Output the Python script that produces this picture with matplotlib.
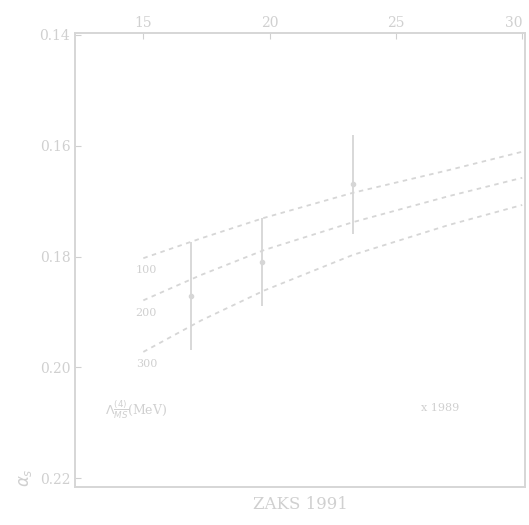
import matplotlib
matplotlib.use("Agg")
import matplotlib.pyplot as plt

# data (image is a vertically flipped scan: alpha_s grows downward)
energy = [15, 17.3, 19.8, 23.3, 27.1, 30]
alpha_100 = [0.1803, 0.1767, 0.1730, 0.1685, 0.1644, 0.1611]
alpha_200 = [0.1879, 0.1833, 0.1788, 0.1738, 0.1691, 0.1658]
alpha_300 = [0.1972, 0.1915, 0.1861, 0.1797, 0.1743, 0.1707]
lambda_labels = ["100", "200", "300"]

point_x = [16.9, 19.7, 23.3]
point_y = [0.1871, 0.1810, 0.1670]
point_err = [0.0097, 0.0080, 0.0090]

x_ticks = [15, 20, 25, 30]
y_ticks = [0.14, 0.16, 0.18, 0.20, 0.22]

grey = "#d6d6d6"
txt = "#d0d0d0"

plt.rcParams['font.family'] = ['DejaVu Serif']
fig = plt.figure(figsize=(5.29, 5.25), dpi=100)
ax = fig.add_axes([0.142, 0.072, 0.850, 0.865])

for curve in [alpha_100, alpha_200, alpha_300]:
    ax.plot(energy, curve, linestyle=(0, (2.5, 2.5)), color=grey, linewidth=1.3)

ax.errorbar(point_x, point_y, yerr=point_err, fmt='o', markersize=3,
            color=grey, ecolor=grey, elinewidth=1.3, capsize=0)

# curve labels at the left end
for lab, curve in zip(lambda_labels, [alpha_100, alpha_200, alpha_300]):
    ax.text(energy[0] - 0.3, curve[0] + 0.0022, lab, fontsize=8, color=txt,
            ha='left', va='center')
ax.text(13.5, 0.2077, r"$\Lambda^{(4)}_{\overline{MS}}$(MeV)", fontsize=9, color=txt,
        ha='left', va='center')
ax.text(26.0, 0.2073, "x 1989", fontsize=8, color=txt, ha='left', va='center')

ax.set_xlim(12.3, 30.1)
ax.set_ylim(0.1397, 0.2216)
ax.invert_yaxis()
ax.xaxis.tick_top()
ax.set_xticks(x_ticks)
ax.set_xticklabels([str(v) for v in x_ticks])
ax.get_xticklabels()[-1].set_horizontalalignment('right')
ax.set_yticks(y_ticks)
ax.set_yticklabels([f"{v:.2f}" for v in y_ticks])
ax.tick_params(colors=txt, labelsize=10, direction='in', length=4)
ax.tick_params(axis='x', pad=2)
for s in ax.spines.values():
    s.set_color(grey)
    s.set_linewidth(1.4)

ax.set_xlabel("ZAKS 1991", fontsize=12, color=txt, labelpad=6)
ax.set_ylabel(r"$\alpha_s$", fontsize=12, color=txt, loc='bottom')

fig.savefig("out.png", dpi=100)
